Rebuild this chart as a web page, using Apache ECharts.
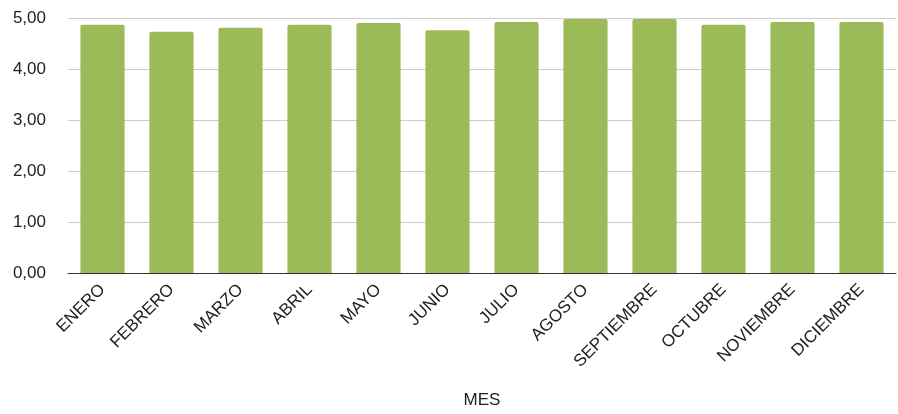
<!DOCTYPE html>
<html>
<head>
<meta charset="utf-8">
<script src="https://cdn.jsdelivr.net/npm/echarts@6/dist/echarts.min.js"></script>
<style>html,body{margin:0;padding:0;background:#fff;}#c{width:898px;height:414px;}</style>
</head>
<body>
<div id="c"></div>
<script>
const months = ['ENERO','FEBRERO','MARZO','ABRIL','MAYO','JUNIO','JULIO','AGOSTO','SEPTIEMBRE','OCTUBRE','NOVIEMBRE','DICIEMBRE'];
const values = [4.87, 4.73, 4.81, 4.87, 4.90, 4.76, 4.92, 4.98, 4.98, 4.87, 4.92, 4.92];
const yTicks = [0, 1, 2, 3, 4, 5];
const xName = 'MES';

const chart = echarts.init(document.getElementById('c'), null, {renderer: 'canvas'});
const font = 'Liberation Sans, Arial, sans-serif';
chart.setOption({
  animation: false,
  grid: {left: 68, right: 2, top: 18, bottom: 138, containLabel: false},
  xAxis: {
    type: 'category',
    data: months,
    name: xName,
    nameLocation: 'middle',
    nameGap: 119,
    nameTextStyle: {fontFamily: font, fontSize: 17, color: '#222'},
    axisLine: {lineStyle: {color: '#333', width: 1}},
    axisTick: {show: false},
    axisLabel: {rotate: 45, interval: 0, fontFamily: font, fontSize: 17, color: '#222', margin: 14}
  },
  yAxis: {
    type: 'value',
    min: yTicks[0],
    max: yTicks[yTicks.length - 1],
    interval: 1,
    axisLine: {show: false},
    axisTick: {show: false},
    splitLine: {lineStyle: {color: '#ccc', width: 1}},
    axisLabel: {fontFamily: font, fontSize: 17, color: '#222', margin: 22,
      formatter: v => v.toFixed(2).replace('.', ',')}
  },
  series: [{
    type: 'bar',
    data: values,
    barCategoryGap: '36%',
    itemStyle: {color: '#9bbb59', borderRadius: [2, 2, 0, 0]}
  }]
});
</script>
</body>
</html>
